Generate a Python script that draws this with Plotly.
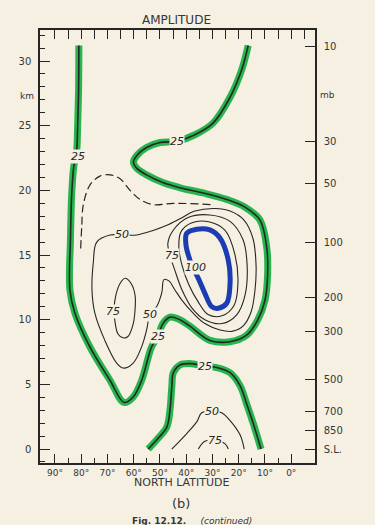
import plotly.graph_objects as go

# ---------------- data (latitude °N, height km) ----------------
lat_ticks = [90, 80, 70, 60, 50, 40, 30, 20, 10, 0]
lat_labels = ["90°", "80°", "70°", "60°", "50°", "40°", "30°", "20°", "10°", "0°"]
lat_minor = [85, 75, 65, 55, 45, 35, 25, 15, 5]
lat_top_ticks = [90, 85, 80, 75, 70, 65, 60, 55, 50, 45, 40, 35, 30, 25, 20, 15, 10, 5, 0, -5]
km_ticks = [0, 5, 10, 15, 20, 25, 30]
mb_labels = ["10", "30", "50", "100", "200", "300", "500", "700", "850", "S.L."]
mb_km = [31.1, 23.8, 20.5, 16.0, 11.7, 9.1, 5.4, 2.9, 1.4, 0.0]

# 25 contour (upper, highlighted green)
c25_upper_lat = [80.9, 81.0, 81.4, 81.6, 82.0, 82.8, 83.6, 84.1, 84.3, 82.4, 76.7, 69.0, 63.7, 60.3,
                 57.0, 53.2, 50.8, 48.9, 46.2, 42.4, 38.6, 31.0, 23.3, 17.0, 12.7, 10.0, 9.0, 9.35,
                 11.9, 17.6, 24.6, 33.5, 42.4, 48.9, 55.1, 58.8, 60.1, 58.8, 55.3, 50.0, 43.5, 36.7,
                 29.8, 23.3, 18.9, 16.4]
c25_upper_km = [31.2, 27.8, 24.7, 23.4, 22.6, 21.9, 19.8, 16.2, 12.3, 10.5, 7.9, 5.3, 3.6, 4.0,
                5.3, 7.9, 8.7, 9.7, 10.2, 10.0, 9.5, 8.4, 8.3, 8.8, 10.0, 11.5, 13.5, 15.6,
                17.7, 18.7, 19.3, 19.8, 20.2, 20.6, 21.2, 21.7, 22.2, 22.7, 23.3, 23.7, 23.8, 24.3,
                25.2, 27.2, 29.3, 31.2]
# 25 contour (lower, highlighted green)
c25_lower_lat = [54.5, 51.3, 47.4, 46.2, 45.5, 44.9, 42.4, 37.9, 32.9, 28.4, 23.3, 19.5, 17.0, 14.5, 11.5]
c25_lower_km = [0.0, 0.7, 1.7, 3.0, 4.8, 5.9, 6.5, 6.6, 6.4, 6.3, 5.9, 4.9, 3.5, 2.0, 0.0]
# 50 contours
c50_upper_lat = [64.5, 69.0, 74.1, 75.4, 75.9, 74.8, 71.0, 66.5, 64.0, 60.2, 57.0, 55.1, 53.8, 51.3,
                 49.3, 48.5, 46.6, 44.3, 41.6, 37.8, 32.9, 27.1, 22.6, 18.4, 15.3, 13.8, 13.4, 14.6,
                 18.0, 23.3, 29.0, 36.7, 42.4, 47.4, 52.6, 58.9, 64.5]
c50_upper_km = [16.55, 16.55, 16.0, 14.4, 12.3, 10.5, 8.4, 6.65, 6.26, 6.65, 7.9, 9.2, 10.4, 11.0,
                12.1, 13.1, 13.0, 12.3, 11.5, 10.6, 9.7, 9.2, 9.1, 9.5, 10.6, 12.3, 14.2, 16.3,
                17.7, 18.4, 18.6, 18.4, 17.8, 17.3, 16.9, 16.55, 16.55]
c50_lower_lat = [45.5, 39.8, 36.0, 34.1, 30.3, 26.5, 23.3, 19.5, 17.9]
c50_lower_km = [0.0, 1.2, 2.1, 2.8, 2.9, 2.8, 2.2, 1.1, 0.0]
# 75 contours
c75_right_lat = [46.2, 47.0, 45.0, 39.3, 31.0, 23.3, 18.4, 16.8, 17.6, 20.7, 26.4, 32.9, 37.8, 41.6, 44.3, 46.2]
c75_right_km = [15.0, 15.9, 16.9, 17.9, 18.1, 17.6, 16.2, 14.2, 11.9, 10.4, 9.7, 10.0, 10.9, 12.3, 13.8, 15.0]
c75_left_lat = [67.5, 66.8, 65.2, 63.3, 61.0, 59.5, 59.5, 60.3, 62.2, 64.1, 66.0, 67.1, 67.5]
c75_left_km = [10.75, 11.9, 12.8, 13.2, 12.8, 11.9, 10.75, 9.6, 8.7, 8.6, 8.9, 9.8, 10.75]
c75_lower_lat = [35.4, 32.9, 29.0, 25.2, 24.0]
c75_lower_km = [0.0, 0.6, 0.65, 0.4, 0.0]
# unlabeled inner ring
c_inner_lat = [42.0, 37.8, 31.0, 25.2, 21.4, 20.3, 21.8, 26.4, 31.7, 35.5, 39.0, 41.6, 42.8, 42.0]
c_inner_km = [16.8, 17.5, 17.55, 16.9, 15.0, 12.8, 11.1, 10.3, 10.4, 11.4, 12.7, 14.2, 15.5, 16.8]
# 100 contour (highlighted blue)
c100_lat = [37.4, 38.6, 40.1, 39.8, 36.0, 31.0, 27.1, 24.0, 23.3, 24.6, 27.8, 30.3, 32.9, 35.4, 37.4]
c100_km = [14.0, 14.62, 15.78, 16.68, 16.99, 16.94, 16.30, 14.62, 12.82, 11.27, 10.88, 11.01, 12.04, 13.20, 14.0]
# dashed contour
c_dash_lat = [80.2, 79.8, 79.2, 76.7, 72.9, 69.0, 65.2, 61.4, 57.6, 52.6, 44.9, 30.3]
c_dash_km = [15.5, 17.2, 18.9, 20.4, 21.1, 21.2, 20.9, 20.0, 19.3, 18.9, 19.0, 18.9]

# contour labels
label_text = ["25", "25", "50", "75", "100", "75", "50", "25", "25", "50", "75"]
label_lat = [81.2, 43.5, 64.5, 45.5, 36.3, 67.8, 53.8, 50.6, 32.9, 30.3, 29.0]
label_km = [22.6, 23.8, 16.55, 15.0, 14.0, 10.6, 10.4, 8.7, 6.4, 2.9, 0.65]

# ---------------- styling ----------------
PAPER = "#f5f0e2"
INK = "#262626"
TXT = "#363636"
GREEN = "#27b54e"
BLUE = "#1c3cb3"
XR = [95.7, -9.05]
YR = [-1.08, 32.4]

fig = go.Figure()


def add_line(lat, km, color, width, dash=None):
    fig.add_trace(go.Scatter(
        x=lat, y=km, mode="lines",
        line=dict(color=color, width=width, shape="spline", smoothing=1.0, dash=dash),
        hoverinfo="skip", showlegend=False))


# green highlight under 25 contours
add_line(c25_upper_lat, c25_upper_km, GREEN, 7)
add_line(c25_lower_lat, c25_lower_km, GREEN, 7)
# blue highlight for 100
add_line(c100_lat, c100_km, BLUE, 5)

add_line(c25_upper_lat, c25_upper_km, INK, 1.6)
add_line(c25_lower_lat, c25_lower_km, INK, 1.6)
add_line(c50_upper_lat, c50_upper_km, INK, 1.1)
add_line(c50_lower_lat, c50_lower_km, INK, 1.1)
add_line(c75_right_lat, c75_right_km, INK, 1.1)
add_line(c75_left_lat, c75_left_km, INK, 1.1)
add_line(c75_lower_lat, c75_lower_km, INK, 1.1)
add_line(c_inner_lat, c_inner_km, INK, 1.1)
add_line(c_dash_lat, c_dash_km, INK, 1.2, dash="8px,4px")

# empty trace on secondary axes so the top/right axes are rendered
fig.add_trace(go.Scatter(x=[], y=[], xaxis="x2", yaxis="y2", mode="lines",
                         hoverinfo="skip", showlegend=False))

annotations = []
for t, la, k in zip(label_text, label_lat, label_km):
    annotations.append(dict(x=la, y=k, xref="x", yref="y", text="<i>" + t + "</i>",
                            showarrow=False, bgcolor=PAPER, borderpad=0,
                            xanchor="center", yanchor="middle",
                            font=dict(size=11, color=INK, family="DejaVu Sans")))


def paper_text(x, y, text, size, xanchor="center", yref="paper"):
    return dict(x=x, y=y, xref="paper", yref=yref, text=text, showarrow=False,
                xanchor=xanchor, yanchor="middle",
                font=dict(size=size, color=TXT, family="DejaVu Sans"))


annotations += [
    paper_text(0.495, 1.0235, "AMPLITUDE", 12),
    paper_text(0.516, -0.0439, "NORTH LATITUDE", 11),
    paper_text(0.513, -0.0924, "(b)", 13),
    paper_text(0.553, -0.134, "<b>Fig. 12.12.</b>     <i>(continued)</i>", 9),
    paper_text(-0.047, 27.3, "km", 9, yref="y"),
    paper_text(1.011, 27.4, "mb", 9, xanchor="left", yref="y"),
]

axis_common = dict(showgrid=False, zeroline=False, showline=True, linecolor=INK, linewidth=1.5,
                   ticks="inside", tickcolor=INK, tickwidth=1.2, fixedrange=True)

fig.update_layout(
    width=375, height=525,
    margin=dict(l=40, r=60, t=30, b=62, pad=0),
    paper_bgcolor=PAPER, plot_bgcolor=PAPER,
    font=dict(family="DejaVu Sans", color=TXT),
    showlegend=False,
    annotations=annotations,
    xaxis=dict(range=XR, tickmode="array", tickvals=lat_ticks, ticktext=lat_labels,
               ticklen=9, tickfont=dict(size=9, color=TXT),
               minor=dict(tickmode="array", tickvals=lat_minor, ticks="inside", ticklen=5,
                          tickcolor=INK, tickwidth=1.2, showgrid=False),
               **axis_common),
    yaxis=dict(range=YR, tickmode="array", tickvals=km_ticks, ticklen=10,
               tickfont=dict(size=10, color=TXT), ticklabelstandoff=5,
               minor=dict(dtick=1, tick0=0, ticks="inside", ticklen=5,
                          tickcolor=INK, tickwidth=1.2, showgrid=False),
               **axis_common),
    xaxis2=dict(range=XR, overlaying="x", side="top", anchor="y", tickmode="array",
                tickvals=lat_top_ticks, ticklen=9, showticklabels=False, **axis_common),
    yaxis2=dict(range=YR, overlaying="y", side="right", anchor="x", tickmode="array",
                tickvals=mb_km, ticktext=mb_labels, ticklen=10, ticklabelstandoff=5,
                tickfont=dict(size=10, color=TXT), **axis_common),
)

fig.write_html("out.html")
